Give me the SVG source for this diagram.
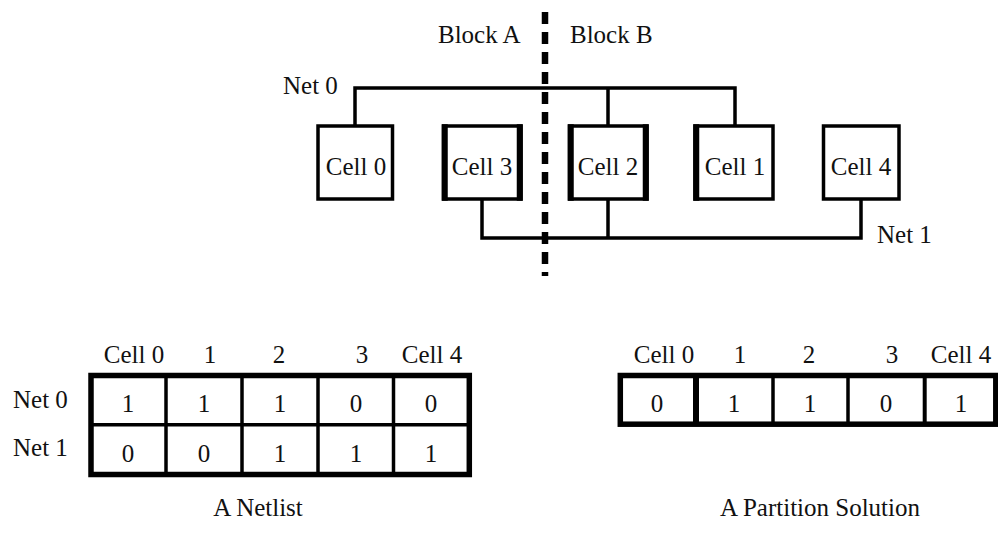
<svg xmlns="http://www.w3.org/2000/svg" width="998" height="540" viewBox="0 0 998 540">
<style>
text{font-family:'Liberation Serif','Times New Roman','DejaVu Serif',serif;font-size:25px;fill:#111}
.c{text-anchor:middle}
.box{fill:#fff;stroke:#000;stroke-width:3.5}
.thick{fill:#000}
.wire{fill:none;stroke:#000;stroke-width:3.5;stroke-linecap:square}
.grid{stroke:#000;stroke-width:3.5}
.outer{fill:none;stroke:#000;stroke-width:5.5}
</style>
<rect width="998" height="540" fill="#fff"/>

<g id="partition-line">
<line x1="545" y1="12" x2="545" y2="276" stroke="#000" stroke-width="6.5" stroke-dasharray="12 8"/>
<text x="438" y="43" font-family="Liberation Serif, serif">Block A</text>
<text x="570" y="43" font-family="Liberation Serif, serif">Block B</text>
</g>

<g id="connectors">
<path class="wire" d="M355 124 V88 H735 V124 M608 88 V124"/>
<path class="wire" d="M482 201 V238 H861 V201 M608 201 V238"/>
<text x="283" y="94">Net 0</text>
<text x="877" y="243">Net 1</text>
</g>

<g id="cell0">
<rect class="box" x="318" y="126" width="74.5" height="73"/>
<text class="c" x="356" y="175">Cell 0</text>
</g>
<g id="cell3">
<rect class="box" x="443.5" y="126" width="77.5" height="73"/>
<rect class="thick" x="441.75" y="124.25" width="6" height="76.5"/>
<rect class="thick" x="516.75" y="124.25" width="6" height="76.5"/>
<text class="c" x="482" y="175">Cell 3</text>
</g>
<g id="cell2">
<rect class="box" x="569.5" y="126" width="77.5" height="73"/>
<rect class="thick" x="567.75" y="124.25" width="6" height="76.5"/>
<rect class="thick" x="642.75" y="124.25" width="6" height="76.5"/>
<text class="c" x="608" y="175">Cell 2</text>
</g>
<g id="cell1">
<rect class="box" x="695" y="126" width="78" height="73"/>
<rect class="thick" x="693.25" y="124.25" width="6" height="76.5"/>
<text class="c" x="735" y="175">Cell 1</text>
</g>
<g id="cell4">
<rect class="box" x="823.5" y="126" width="75.5" height="73"/>
<text class="c" x="861" y="175">Cell 4</text>
</g>

<g id="netlist">
<text class="c" x="134" y="363">Cell 0</text>
<text class="c" x="210" y="363">1</text>
<text class="c" x="279" y="363">2</text>
<text class="c" x="362" y="363">3</text>
<text class="c" x="432" y="363">Cell 4</text>
<text x="13" y="408">Net 0</text>
<text x="13" y="456">Net 1</text>
<line class="grid" x1="166" y1="375" x2="166" y2="475"/>
<line class="grid" x1="242" y1="375" x2="242" y2="475"/>
<line class="grid" x1="318" y1="375" x2="318" y2="475"/>
<line class="grid" x1="393.5" y1="375" x2="393.5" y2="475"/>
<line class="grid" x1="91" y1="424.7" x2="469" y2="424.7"/>
<rect class="outer" x="91" y="375.5" width="378.3" height="99"/>
<text class="c" x="128" y="412">1</text>
<text class="c" x="204" y="412">1</text>
<text class="c" x="280" y="412">1</text>
<text class="c" x="356" y="412">0</text>
<text class="c" x="431" y="412">0</text>
<text class="c" x="128" y="462">0</text>
<text class="c" x="204" y="462">0</text>
<text class="c" x="280" y="462">1</text>
<text class="c" x="356" y="462">1</text>
<text class="c" x="431" y="462">1</text>
<text class="c" x="258" y="516">A Netlist</text>
</g>

<g id="partition">
<text class="c" x="664" y="363">Cell 0</text>
<text class="c" x="740" y="363">1</text>
<text class="c" x="809" y="363">2</text>
<text class="c" x="892" y="363">3</text>
<text class="c" x="961" y="363">Cell 4</text>
<line x1="696" y1="375" x2="696" y2="425" stroke="#000" stroke-width="6"/>
<line class="grid" x1="773" y1="375" x2="773" y2="425"/>
<line class="grid" x1="848" y1="375" x2="848" y2="425"/>
<line x1="924.7" y1="375" x2="924.7" y2="425" stroke="#000" stroke-width="4"/>
<rect class="outer" x="620.3" y="375.5" width="375.5" height="48.7"/>
<text class="c" x="657" y="412">0</text>
<text class="c" x="734" y="412">1</text>
<text class="c" x="810" y="412">1</text>
<text class="c" x="886" y="412">0</text>
<text class="c" x="961" y="412">1</text>
<text class="c" x="820" y="516">A Partition Solution</text>
</g>
</svg>
